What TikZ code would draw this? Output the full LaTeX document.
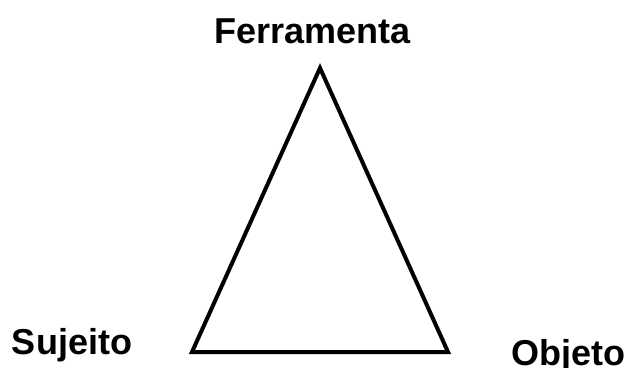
\documentclass[tikz,border=0pt]{standalone}
\usepackage{fontspec}
\setmainfont{Liberation Sans}
\begin{document}
\begin{tikzpicture}[x=1pt,y=-1pt,
  lbl/.style={font=\fontsize{36}{40}\selectfont\bfseries, inner sep=0pt, anchor=base},
  tri/.style={line width=4pt, line join=miter}]
\useasboundingbox (0,0) rectangle (628,367);
\coordinate (top) at (320,68);
\coordinate (bl) at (192,352);
\coordinate (br) at (448,352);
\draw[tri] (top) -- (bl) -- (br) -- cycle;
\node[lbl] (ferr) at (312.5,43) {Ferramenta};
\node[lbl] (suj) at (72,354) {Sujeito};
\node[lbl] (obj) at (568.5,365) {Objeto};
\end{tikzpicture}
\end{document}
